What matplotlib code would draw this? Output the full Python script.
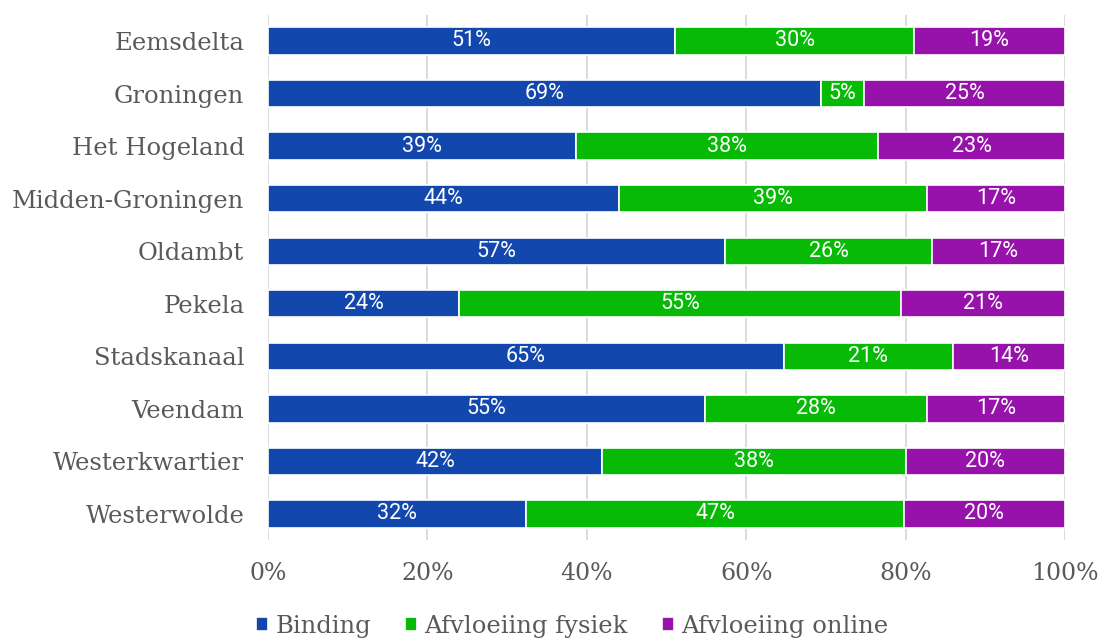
"""Stacked 100% bar chart: binding vs. afvloeiing per gemeente."""

import matplotlib

matplotlib.use("Agg")
import matplotlib.pyplot as plt
import numpy as np

gemeenten = [
    "Eemsdelta",
    "Groningen",
    "Het Hogeland",
    "Midden-Groningen",
    "Oldambt",
    "Pekela",
    "Stadskanaal",
    "Veendam",
    "Westerkwartier",
    "Westerwolde",
]
binding = [51.1, 69.4, 38.6, 44.0, 57.4, 24.0, 64.7, 54.8, 41.9, 32.4]
afvloeiing_fysiek = [30.0, 5.4, 38.0, 38.7, 25.9, 55.4, 21.2, 27.9, 38.1, 47.4]
afvloeiing_online = [18.9, 25.2, 23.4, 17.3, 16.7, 20.6, 14.1, 17.3, 20.0, 20.2]

series = ["Binding", "Afvloeiing fysiek", "Afvloeiing online"]
colors = ["#1248AE", "#06BA06", "#9612AB"]
values = [binding, afvloeiing_fysiek, afvloeiing_online]
ticks = [0, 20, 40, 60, 80, 100]

SERIF = "DejaVu Serif"
SANS = "Roboto"
TEXT_COLOR = "#595959"

fig = plt.figure(figsize=(11, 6.39), dpi=100)
ax = fig.add_axes([0.2436, 0.1545, 0.7245, 0.8225])

y = np.arange(len(gemeenten))
left = np.zeros(len(gemeenten))
for name, color, vals in zip(series, colors, values):
    vals = np.asarray(vals)
    bars = ax.barh(y, vals, left=left, height=0.52, color=color,
                   edgecolor="white", linewidth=1.2, label=name, zorder=3)
    for rect, v in zip(bars, vals):
        ax.text(rect.get_x() + rect.get_width() / 2, rect.get_y() + rect.get_height() / 2,
                f"{v:.0f}%", ha="center", va="center", color="white",
                fontsize=15.5, family=SANS, zorder=4)
    left += vals

ax.set_xlim(0, 100)
ax.set_ylim(len(gemeenten) - 0.5, -0.5)
ax.set_yticks(y)
ax.set_yticklabels(gemeenten, family=SERIF, fontsize=17.5, color=TEXT_COLOR)
ax.set_xticks(ticks)
ax.set_xticklabels([f"{t}%" for t in ticks], family=SERIF, fontsize=17, color=TEXT_COLOR)

ax.grid(axis="x", color="#d9d9d9", linewidth=1.3, zorder=0)
for spine in ax.spines.values():
    spine.set_visible(False)
ax.tick_params(axis="y", length=0, pad=17)
ax.tick_params(axis="x", length=0, pad=16)

handles, labels = ax.get_legend_handles_labels()
leg = fig.legend(handles, labels, loc="center", bbox_to_anchor=(0.52, 0.02), ncol=3,
                 frameon=False, handlelength=0.5, handleheight=0.5, handletextpad=0.3,
                 columnspacing=1.4, prop={"family": SERIF, "size": 17.5})
for text in leg.get_texts():
    text.set_color(TEXT_COLOR)

fig.savefig("out.png", dpi=100)
